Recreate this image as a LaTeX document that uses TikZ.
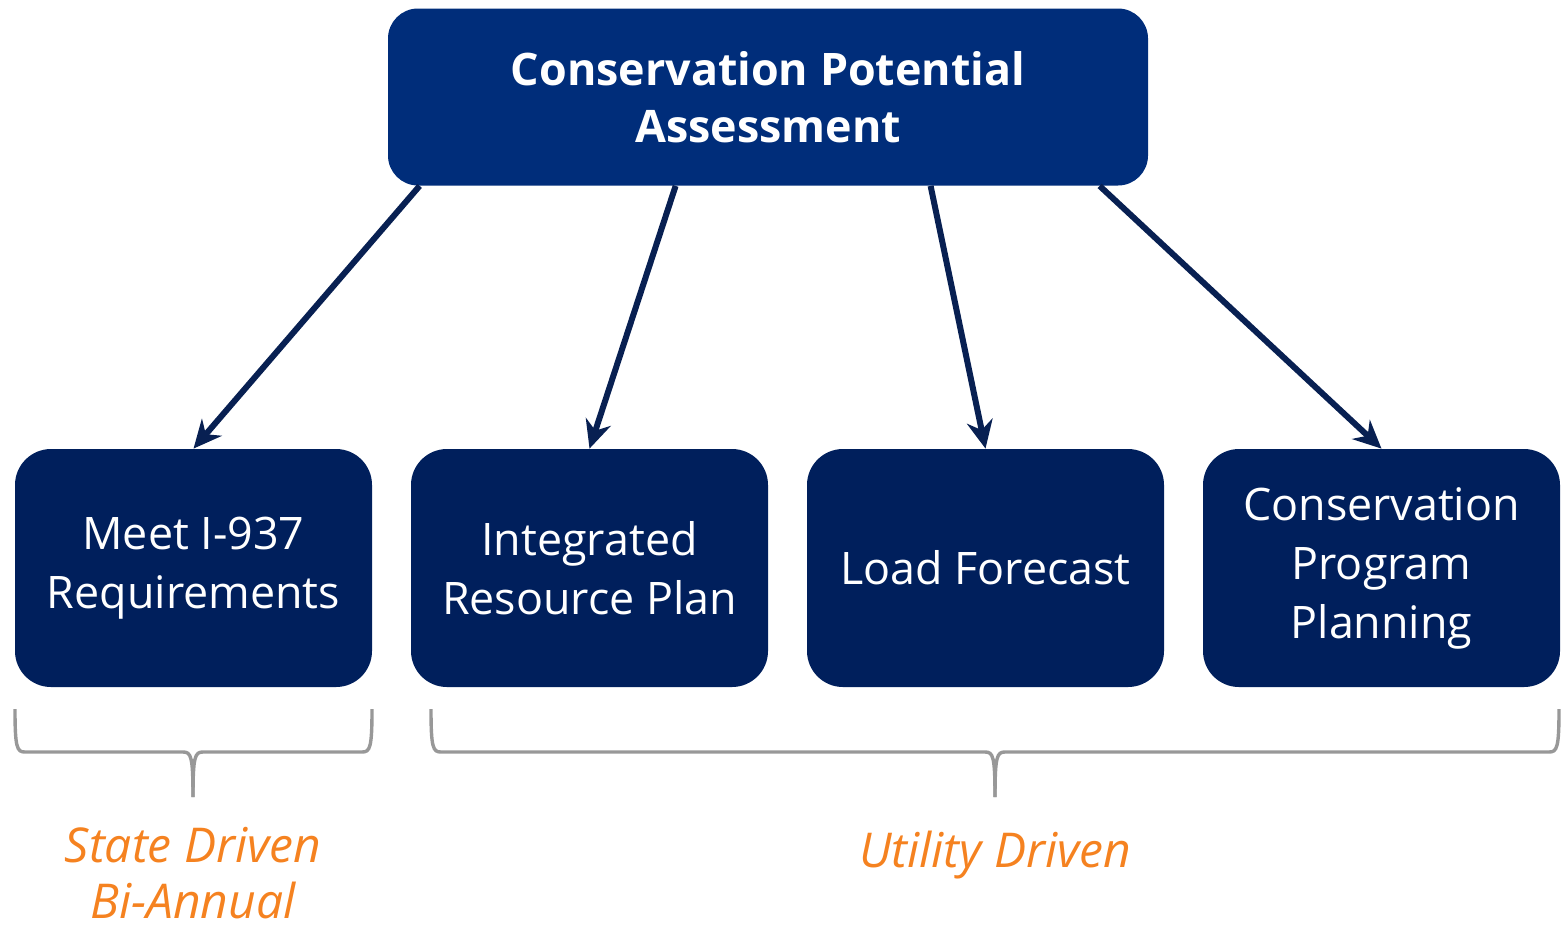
\documentclass[tikz,border=0pt]{standalone}
\usepackage{fontspec}
\setmainfont{Open Sans}
\usetikzlibrary{arrows.meta}
\definecolor{topblue}{RGB}{0,45,122}
\definecolor{boxblue}{RGB}{0,31,92}
\definecolor{arrowblue}{RGB}{8,32,82}
\definecolor{bracegray}{RGB}{152,152,152}
\definecolor{driveorange}{RGB}{245,130,32}
\tikzset{
  topbox/.style={fill=topblue, rounded corners=15pt, minimum width=380pt, minimum height=88.5pt, text=white, align=center, font=\fontsize{22.4}{28.5}\selectfont\bfseries},
  task/.style={fill=boxblue, rounded corners=18pt, minimum width=178.5pt, minimum height=119pt, text=white, align=center, font=\fontsize{22.4}{29.5}\selectfont},
  feed/.style={draw=arrowblue, line width=3pt, -{Stealth[length=14pt,width=13pt]}},
  brace/.style={draw=bracegray, line width=1.7pt},
  driver/.style={text=driveorange, align=center, inner sep=0pt, font=\fontsize{24}{28}\selectfont\itshape}
}
\begin{document}
\begin{tikzpicture}[x=0.5pt,y=-0.5pt]
\useasboundingbox (0,0) rectangle (1562,928);
\node[topbox] (cpa) at (768,97) {Conservation Potential\\Assessment};
\node[task] (irq) at (193.5,568) {Meet I-937\\Requirements};
\node[task] (irp) at (589.5,568) {Integrated\\Resource Plan};
\node[task] (load) at (985.5,568) {Load Forecast};
\node[task] (cpp) at (1381.5,568) {Conservation\\Program\\Planning};
\draw[feed] ([xshift=16pt]cpa.south west) -- (irq.north);
\draw[feed] ([xshift=144pt]cpa.south west) -- (irp.north);
\draw[feed] ([xshift=271.5pt]cpa.south west) -- (load.north);
\draw[feed] ([xshift=356pt]cpa.south west) -- (cpp.north);
% braces under the boxes
\draw[brace] (15,709) .. controls (15,748) and (17,752) .. (25,752) -- (183,752) .. controls (191,752) and (193,756) .. (193,797);
\draw[brace] (372,709) .. controls (372,748) and (370,752) .. (362,752) -- (203,752) .. controls (195,752) and (193,756) .. (193,797);
\draw[brace] (431,709) .. controls (431,748) and (433,752) .. (441,752) -- (985,752) .. controls (993,752) and (995,756) .. (995,797);
\draw[brace] (1559,709) .. controls (1559,748) and (1557,752) .. (1549,752) -- (1005,752) .. controls (997,752) and (995,756) .. (995,797);
\node[driver] (state) at (193,873) {State Driven\\Bi-Annual};
\node[driver] (utility) at (995,855) {Utility Driven};
\end{tikzpicture}
\end{document}
